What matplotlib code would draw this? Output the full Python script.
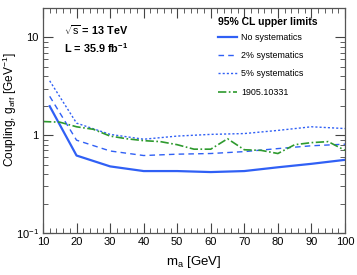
import matplotlib
matplotlib.use("Agg")
import matplotlib.pyplot as plt
from matplotlib.ticker import MultipleLocator, LogLocator, FixedLocator, NullFormatter

plt.rcParams["font.family"] = ["Liberation Sans", "DejaVu Sans"]
plt.rcParams["mathtext.fontset"] = "custom"
plt.rcParams["mathtext.rm"] = "Liberation Sans"
plt.rcParams["mathtext.it"] = "Liberation Sans"
plt.rcParams["mathtext.bf"] = "Liberation Sans:bold"

BLUE = "#3060f5"
GREEN = "#2e9a2e"

# --- data ---
mass = [12, 20, 30, 40, 50, 60, 70, 80, 90, 100]
no_syst = [1.98, 0.62, 0.48, 0.43, 0.43, 0.42, 0.43, 0.47, 0.51, 0.56]
syst2 = [2.5, 0.89, 0.69, 0.62, 0.64, 0.65, 0.68, 0.73, 0.78, 0.81]
syst5 = [3.6, 1.33, 1.02, 0.91, 0.98, 1.02, 1.04, 1.12, 1.22, 1.17]

mass_ref = [10, 15, 20, 25, 30, 35, 40, 45, 50, 55, 60, 65, 70, 75, 80, 85, 90, 95, 100]
ref_1905 = [1.38, 1.36, 1.22, 1.15, 0.98, 0.92, 0.88, 0.86, 0.80, 0.72,
            0.72, 0.92, 0.71, 0.70, 0.65, 0.80, 0.84, 0.86, 0.70]

fig = plt.figure(figsize=(3.57, 2.75), dpi=100)
ax = fig.add_axes([0.1204, 0.1527, 0.8460, 0.8182])

ax.plot(mass, no_syst, color=BLUE, lw=1.6, label="No systematics")
ax.plot(mass, syst2, color=BLUE, lw=1.0, ls=(0, (4, 3)), label="2% systematics")
ax.plot(mass, syst5, color=BLUE, lw=1.0, ls=(0, (1.5, 1.5)), label="5% systematics")
ax.plot(mass_ref, ref_1905, color=GREEN, lw=1.2, ls=(0, (5, 1.5, 1, 1.5)), label="1905.10331")

ax.set_xlim(10, 100)
ax.set_yscale("log")
ax.set_ylim(0.1, 20)

ax.xaxis.set_major_locator(MultipleLocator(10))
ax.xaxis.set_minor_locator(MultipleLocator(2))
ax.yaxis.set_major_locator(FixedLocator([0.1, 1, 10]))
ax.yaxis.set_minor_locator(LogLocator(base=10, subs=range(2, 10)))
ax.yaxis.set_minor_formatter(NullFormatter())
ax.set_yticklabels(["10$^{-1}$", "1", "10"])

ax.tick_params(which="both", direction="in", top=True, right=True,
               labelsize=8, color="#444444", pad=3)
ax.tick_params(which="major", length=7, width=0.8)
ax.tick_params(which="minor", length=3.5, width=0.6)
for s in ax.spines.values():
    s.set_color("#555555")
    s.set_linewidth(0.9)

ax.set_xlabel("m$_{\\mathrm{a}}$ [GeV]", fontsize=9.5, labelpad=5)
ax.set_ylabel("Coupling, g$_{\\mathrm{aff}}$ [GeV$^{-1}$]", fontsize=8.6)
ax.yaxis.set_label_coords(-0.08, 0.55)

ax.text(0.07, 0.9, "$\\sqrt{\\mathrm{s}}$ = 13 TeV", transform=ax.transAxes,
        fontsize=7.8, fontweight="bold", va="center")
ax.text(0.07, 0.823, "L = 35.9 fb$^{\\mathbf{-1}}$", transform=ax.transAxes,
        fontsize=7.8, fontweight="bold", va="center")

ax.text(0.579, 0.938, "95% CL upper limits", transform=ax.transAxes,
        fontsize=7.5, fontweight="bold", va="center")
leg = ax.legend(loc="upper left", bbox_to_anchor=(0.578, 0.89), frameon=False,
                fontsize=6.4, handlelength=2.2, handletextpad=0.45,
                labelspacing=1.05, borderpad=0, borderaxespad=0)

fig.savefig("out.png", dpi=100)
